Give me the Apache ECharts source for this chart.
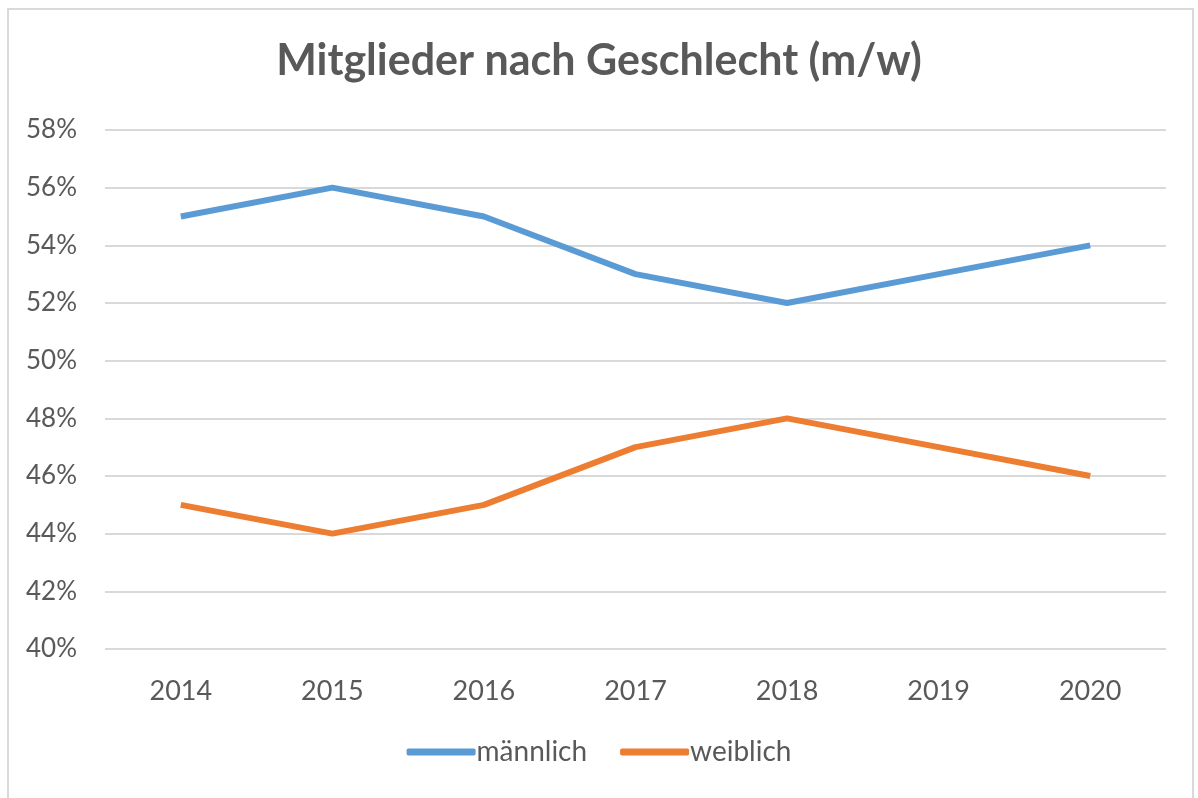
<!DOCTYPE html>
<html>
<head>
<meta charset="utf-8">
<script src="https://cdn.jsdelivr.net/npm/echarts@6/dist/echarts.min.js"></script>
<style>
  html, body { margin: 0; padding: 0; background: #fff; }
  #main { width: 1198px; height: 798px; }
</style>
</head>
<body>
<div id="main"></div>
<script>
// Jahre auf der x-Achse
let years = ['2014', '2015', '2016', '2017', '2018', '2019', '2020'];
// Anteile in Prozent
let maennlich = [55, 56, 55, 53, 52, 53, 54];
let weiblich = [45, 44, 45, 47, 48, 47, 46];

let textColor = '#595959';
let font = 'Lato, "Open Sans", sans-serif';

let chart = echarts.init(document.getElementById('main'), null, { renderer: 'canvas' });

let option = {
  color: ['#5B9BD5', '#ED7D31'],
  animation: false,
  title: {
    text: 'Mitglieder nach Geschlecht (m/w)',
    left: 'center',
    top: 35,
    textStyle: {
      color: textColor,
      fontFamily: font,
      fontWeight: 'bold',
      fontSize: 43
    }
  },
  graphic: [{
    type: 'rect',
    shape: { x: 8, y: 9, width: 1185, height: 800 },
    style: { fill: 'none', stroke: '#d9d9d9', lineWidth: 2 },
    silent: true
  }],
  legend: {
    bottom: 27,
    left: 'center',
    icon: 'roundRect',
    itemWidth: 69,
    itemHeight: 7,
    itemGap: 33,
    textStyle: {
      color: textColor,
      fontFamily: font,
      fontSize: 28,
      padding: [0, 0, 0, -4]
    },
    data: ['männlich', 'weiblich']
  },
  grid: {
    left: 105,
    right: 32,
    top: 130,
    bottom: 149,
    containLabel: false
  },
  xAxis: {
    type: 'category',
    data: years,
    boundaryGap: true,
    axisLine: { show: false },
    axisTick: { show: false },
    axisLabel: {
      color: textColor,
      fontFamily: font,
      fontSize: 27,
      margin: 29
    }
  },
  yAxis: {
    type: 'value',
    min: 40,
    max: 58,
    interval: 2,
    axisLine: { show: false },
    axisTick: { show: false },
    axisLabel: {
      formatter: '{value}%',
      color: textColor,
      fontFamily: font,
      fontSize: 26,
      margin: 28
    },
    splitLine: {
      show: true,
      lineStyle: { color: '#d9d9d9', width: 2 }
    }
  },
  series: [{
    name: 'männlich',
    type: 'line',
    data: maennlich,
    showSymbol: false,
    symbol: 'none',
    lineStyle: { width: 6 }
  }, {
    name: 'weiblich',
    type: 'line',
    data: weiblich,
    showSymbol: false,
    symbol: 'none',
    lineStyle: { width: 6 }
  }]
};

chart.setOption(option);
</script>
</body>
</html>
